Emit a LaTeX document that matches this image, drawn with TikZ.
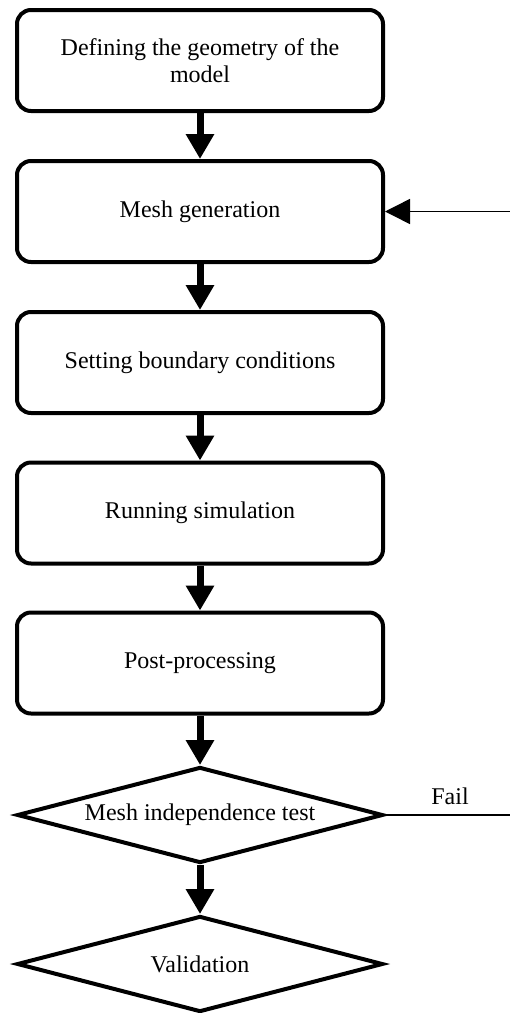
\documentclass[tikz,border=0pt]{standalone}
\usepackage{fontspec}
\setmainfont{Liberation Serif}
\usetikzlibrary{arrows.meta,shapes.geometric}
\begin{document}
\begin{tikzpicture}[x=1pt,y=-1pt,
  txt/.style={font=\fontsize{24}{27}\selectfont},
  box/.style={draw,line width=4pt,rounded corners=14pt,minimum width=366pt,minimum height=101pt,inner sep=0pt,align=center,txt},
  dec/.style={draw,diamond,line width=4pt,minimum width=366pt,minimum height=96pt,aspect=3.8,inner sep=0pt,txt},
  flow/.style={line width=7pt,-{Triangle[width=27pt,length=25pt]}},
  feed/.style={line width=1.5pt,-{Triangle[width=25pt,length=25pt]}}]
\useasboundingbox (0,0) rectangle (510,1013);
\node[box] (b1) at (200,60.5) {Defining the geometry of the\\model};
\node[box] (b2) at (200,211.5) {Mesh generation};
\node[box] (b3) at (200,362.5) {Setting boundary conditions};
\node[box] (b4) at (200,513) {Running simulation};
\node[box] (b5) at (200,663) {Post-processing};
\node[dec] (d1) at (200,815) {Mesh independence test};
\node[dec] (d2) at (200,964) {Validation};
\coordinate (failend) at (510,815);
\coordinate (inend) at (510,211.5);
\node[txt] (fail) at (450,796) {Fail};
\draw[flow] (b1.south) -- (b2.north);
\draw[flow] (b2.south) -- (b3.north);
\draw[flow] (b3.south) -- (b4.north);
\draw[flow] (b4.south) -- (b5.north);
\draw[flow] (b5.south) -- (d1.north);
\draw[flow] (d1.south) -- (d2.north);
\draw[line width=1.5pt] (d1.east) -- (failend);
\draw[feed] (inend) -- (b2.east);
\end{tikzpicture}
\end{document}
